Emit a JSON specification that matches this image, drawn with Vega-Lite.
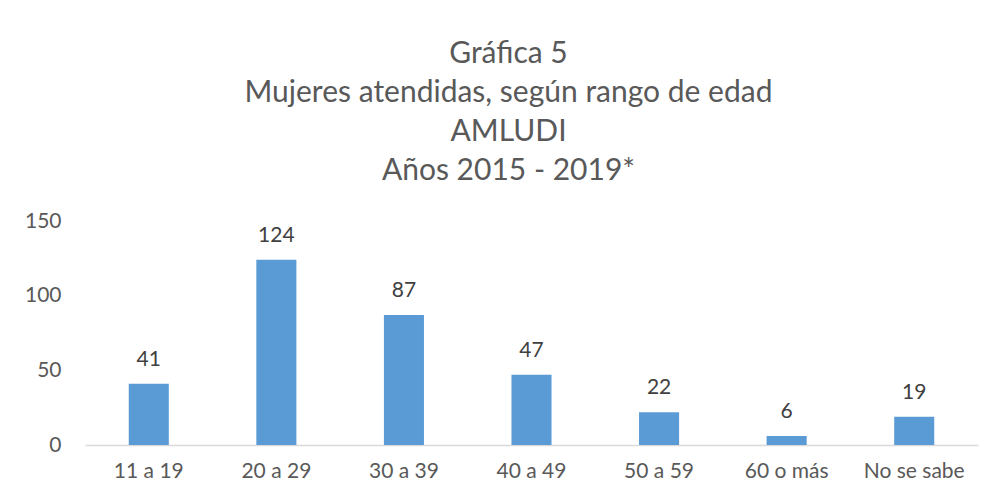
{
  "$schema": "https://vega.github.io/schema/vega-lite/v6.json",
  "width": 893,
  "height": 224,
  "autosize": {"type": "none"},
  "padding": {"left": 85, "top": 221, "right": 16, "bottom": 53},
  "background": "white",
  "config": {"view": {"stroke": null}, "font": "Lato"},
  "title": {
    "text": ["Gráfica 5", "Mujeres atendidas, según rango de edad", "AMLUDI", "Años 2015 - 2019*"],
    "fontSize": 30,
    "fontWeight": "normal",
    "color": "#595959",
    "lineHeight": 39,
    "anchor": "middle",
    "dx": -23,
    "offset": 24,
    "font": "Lato"
  },
  "data": {
    "values": [
      {"rango": "11 a 19", "mujeres": 41},
      {"rango": "20 a 29", "mujeres": 124},
      {"rango": "30 a 39", "mujeres": 87},
      {"rango": "40 a 49", "mujeres": 47},
      {"rango": "50 a 59", "mujeres": 22},
      {"rango": "60 o más", "mujeres": 6},
      {"rango": "No se sabe", "mujeres": 19}
    ]
  },
  "encoding": {
    "x": {
      "field": "rango", "type": "nominal", "sort": null,
      "scale": {"paddingInner": 0.686, "paddingOuter": 0.343},
      "axis": {"title": null, "labelAngle": 0, "labelFontSize": 21, "labelColor": "#595959", "labelPadding": 15, "ticks": false, "domainColor": "#d9d9d9", "domainWidth": 1.3, "labelFont": "Lato"}
    },
    "y": {
      "field": "mujeres", "type": "quantitative",
      "scale": {"domain": [0, 150]},
      "axis": {"title": null, "values": [0, 50, 100, 150], "grid": false, "domain": false, "ticks": false, "labelFontSize": 21, "labelColor": "#595959", "labelPadding": 24, "labelFont": "Lato"}
    }
  },
  "layer": [
    {"mark": {"type": "bar", "color": "#5B9BD5"}},
    {
      "mark": {"type": "text", "fontSize": 21, "color": "#404040", "baseline": "alphabetic", "dy": -18, "font": "Lato"},
      "encoding": {"text": {"field": "mujeres", "type": "quantitative"}}
    }
  ]
}
